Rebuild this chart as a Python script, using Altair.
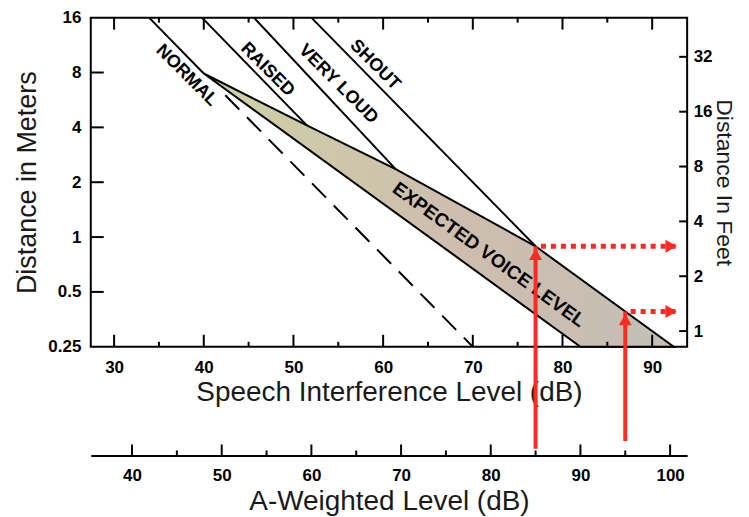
import altair as alt
import pandas as pd

# ---------------- data ----------------
sil_major = [30, 40, 50, 60, 70, 80, 90]
sil_minor = [35, 45, 55, 65, 75, 85]
meter_ticks = [0.25, 0.5, 1, 2, 4, 8, 16]
meter_inner = [0.5, 1, 2, 4, 8]
feet_ticks = [1, 2, 4, 8, 16, 32]
aw_major = [40, 50, 60, 70, 80, 90, 100]
aw_minor = [45, 55, 65, 75, 85, 95]

voice_names = ["NORMAL", "RAISED", "VERY LOUD", "SHOUT"]
voice_x0 = [33.9, 39.8, 45.6, 52.0]
voice_y0 = [16, 16, 16, 16]
voice_x1 = [40.0, 51.5, 61.4, 77.0]
voice_y1 = [7.9, 4.1, 2.36, 0.89]
label_x = [38.1, 47.1, 55.0, 59.1]
label_y = [7.7, 8.3, 6.9, 8.8]

normal_ext_x = [42.4, 70.0]
normal_ext_y = [6.0, 0.25]

band_x = [40.0, 51.5, 61.4, 77.0, 92.4, 82.0]
band_y = [7.9, 4.1, 2.36, 0.89, 0.25, 0.25]
band_label = ["EXPECTED VOICE LEVEL"]
band_label_x = [71.8]
band_label_y = [0.80]

arrow_x = [77.0, 87.0]
arrow_from_y = [0.069, 0.076]
arrow_to_y = [0.89, 0.39]
arrow_end_x = [93.0, 93.0]

SIL_DOMAIN = [27.4, 93.9]
AW_OFFSET = 8          # A-weighted level = SIL + 8 dB
M_TO_FT = 3.28084

# ---------------- layout / style ----------------
W, H = 598, 330
FONT = "Liberation Sans"
RED = "#ff2a22"
LABEL_SIZE = 17
TITLE_SIZE = 27
XTITLE_SIZE = 28
AW_AXIS_Y = 109

xs = alt.Scale(domain=SIL_DOMAIN, nice=False, zero=False)
ys = alt.Scale(type="log", domain=[0.25, 16], nice=False)
fs = alt.Scale(type="log", domain=[0.25 * M_TO_FT, 16 * M_TO_FT], nice=False)
aws = alt.Scale(domain=[SIL_DOMAIN[0] + AW_OFFSET, SIL_DOMAIN[1] + AW_OFFSET], nice=False, zero=False)

x_axis = alt.Axis(values=sil_major, domain=False, ticks=False, tickSize=0, grid=False,
                  labelPadding=13, titlePadding=3, titleFontSize=XTITLE_SIZE, format="d")
y_axis = alt.Axis(values=meter_ticks, domain=False, ticks=False, tickSize=0, grid=False,
                  labelPadding=10, titlePadding=6, format="~g")
feet_axis = alt.Axis(orient="right", values=feet_ticks, domain=False, ticks=False, tickSize=0,
                     grid=False, labelPadding=6, titlePadding=0, titleFontSize=23, format="~g")
aw_axis = alt.Axis(orient="bottom", offset=AW_AXIS_Y, values=aw_major, domain=True,
                   domainColor="black", domainWidth=2, ticks=False, tickSize=0, grid=False,
                   labelPadding=12, titlePadding=4, titleFontSize=XTITLE_SIZE, format="d")

XT = "Speech Interference Level (dB)"
YT = "Distance in Meters"


def X(field):
    return alt.X(field, type="quantitative", scale=xs, axis=x_axis, title=XT)


def Y(field):
    return alt.Y(field, type="quantitative", scale=ys, axis=y_axis, title=YT)


band_df = pd.DataFrame({"x": band_x, "y": band_y, "i": list(range(len(band_x)))})
voice_df = pd.DataFrame({"name": voice_names, "x0": voice_x0, "y0": voice_y0,
                         "x1": voice_x1, "y1": voice_y1})
lab_df = pd.DataFrame({"name": voice_names, "x": label_x, "y": label_y})
ext_df = pd.DataFrame({"x": normal_ext_x, "y": normal_ext_y})
blab_df = pd.DataFrame({"t": band_label, "x": band_label_x, "y": band_label_y})
arr_df = pd.DataFrame({"x": arrow_x, "y0": arrow_from_y, "y1": arrow_to_y,
                       "xs": [v + 0.6 for v in arrow_x], "xe": arrow_end_x})

grad = alt.Gradient(
    gradient="linear",
    stops=[alt.GradientStop(color="#cfd1a6", offset=0),
           alt.GradientStop(color="#cdbdae", offset=0.55),
           alt.GradientStop(color="#c4bfb5", offset=1)],
    x1=0, x2=1, y1=0, y2=0,
)

band = alt.Chart(band_df).mark_line(
    interpolate="linear-closed", fill=grad, stroke="black", strokeWidth=2
).encode(x=X("x"), y=Y("y"), order=alt.Order("i:Q"))

voice = alt.Chart(voice_df).mark_rule(color="black", strokeWidth=2).encode(
    x=X("x0"), y=Y("y0"), x2="x1", y2="y1")

ext = alt.Chart(ext_df).mark_line(color="black", strokeWidth=2, strokeDash=[20, 11]).encode(
    x=X("x"), y=Y("y"))

labels = alt.Chart(lab_df).mark_text(angle=45, font=FONT, fontWeight="bold", fontSize=18,
                                     color="black").encode(x=X("x"), y=Y("y"), text="name:N")

blab = alt.Chart(blab_df).mark_text(angle=36, font=FONT, fontWeight="bold", fontSize=19,
                                    color="black").encode(x=X("x"), y=Y("y"), text="t:N")

shaft = alt.Chart(arr_df).mark_rule(color=RED, strokeWidth=4).encode(
    x=X("x"), y=Y("y0"), y2="y1")
head_up = alt.Chart(arr_df).mark_point(shape="triangle-up", filled=True, size=170, yOffset=8,
                                       color=RED, opacity=1).encode(x=X("x"), y=Y("y1"))
dots = alt.Chart(arr_df).mark_rule(color=RED, strokeWidth=5, strokeDash=[5, 5]).encode(
    x=X("xs"), x2="xe", y=Y("y1"))
head_right = alt.Chart(arr_df).mark_point(shape="triangle-right", filled=True, size=170,
                                          xOffset=-8, color=RED, opacity=1).encode(
    x=X("xe"), y=Y("y1"))

maj_df = pd.DataFrame({"v": sil_major})
min_df = pd.DataFrame({"v": sil_minor})
bot_major = alt.Chart(maj_df).mark_rule(color="black", strokeWidth=2).encode(
    x=X("v"), y=alt.value(H), y2=alt.value(H - 12))
bot_minor = alt.Chart(min_df).mark_rule(color="black", strokeWidth=2).encode(
    x=X("v"), y=alt.value(H), y2=alt.value(H - 5))
top_major = alt.Chart(maj_df).mark_rule(color="black", strokeWidth=2).encode(
    x=X("v"), y=alt.value(0), y2=alt.value(12))
top_minor = alt.Chart(min_df).mark_rule(color="black", strokeWidth=2).encode(
    x=X("v"), y=alt.value(0), y2=alt.value(5))
left_ticks = alt.Chart(pd.DataFrame({"v": meter_inner})).mark_rule(color="black", strokeWidth=2).encode(
    y=Y("v"), x=alt.value(0), x2=alt.value(13))

main = alt.layer(band, ext, voice, labels, blab, bot_major, bot_minor, top_major, top_minor,
                 left_ticks, shaft, dots, head_up, head_right)

feet = alt.Chart(pd.DataFrame({"ft": feet_ticks})).mark_rule(color="black", strokeWidth=2).encode(
    y=alt.Y("ft:Q", scale=fs, axis=feet_axis, title="Distance In Feet"),
    x=alt.value(W), x2=alt.value(W - 8))

AWT = "A-Weighted Level (dB)"
aw_major_l = alt.Chart(pd.DataFrame({"a": aw_major})).mark_rule(color="black", strokeWidth=2).encode(
    x=alt.X("a:Q", scale=aws, axis=aw_axis, title=AWT),
    y=alt.value(H + AW_AXIS_Y), y2=alt.value(H + AW_AXIS_Y - 11))
aw_minor_l = alt.Chart(pd.DataFrame({"a": aw_minor})).mark_rule(color="black", strokeWidth=2).encode(
    x=alt.X("a:Q", scale=aws, axis=aw_axis, title=AWT),
    y=alt.value(H + AW_AXIS_Y), y2=alt.value(H + AW_AXIS_Y - 5))
aw = alt.layer(aw_major_l, aw_minor_l)

chart = alt.layer(main, feet, aw).resolve_scale(x="independent", y="independent").properties(
    width=W, height=H,
    padding={"left": 5, "top": 0, "right": 6, "bottom": 0},
    background="white",
).configure_view(stroke="black", strokeWidth=2).configure_axis(
    labelFont=FONT, titleFont=FONT, labelFontSize=LABEL_SIZE, titleFontSize=TITLE_SIZE,
    labelFontWeight="bold", titleFontWeight="normal", labelColor="black", titleColor="#1a1a1a",
)

chart.save("out.html", embed_options={"renderer": "svg", "actions": False})
